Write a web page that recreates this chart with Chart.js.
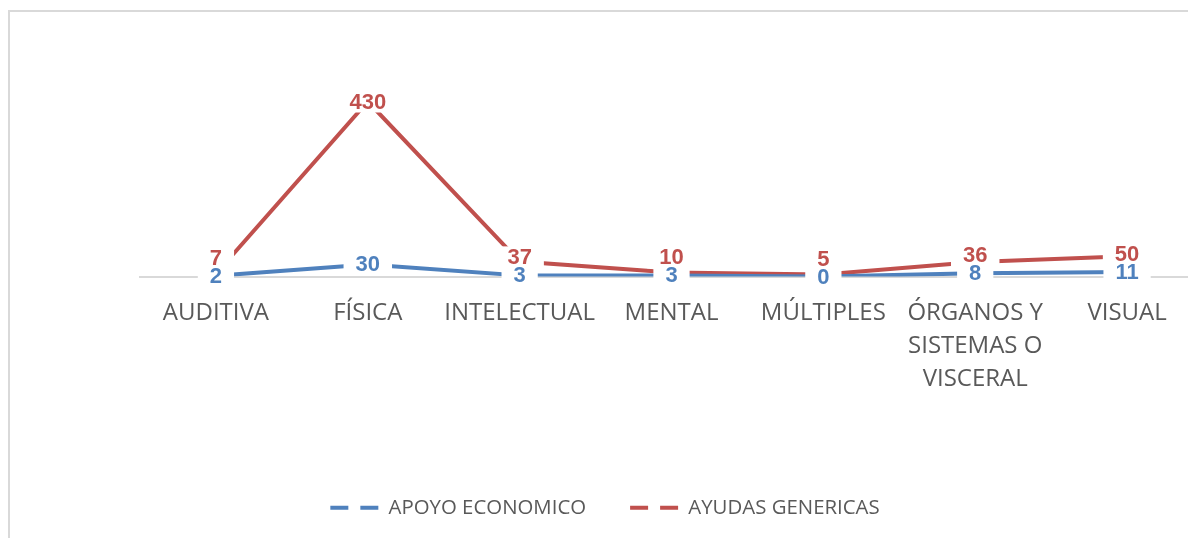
<!DOCTYPE html>
<html>
<head>
<meta charset="utf-8">
<script src="https://cdn.jsdelivr.net/npm/chart.js@4"></script>
<style>
html, body { margin: 0; padding: 0; background: #fff; overflow: hidden; width: 1188px; height: 538px; }
#marco { position: absolute; left: 8px; top: 10px; width: 1400px; height: 700px; border-left: 2px solid #d9d9d9; border-top: 2px solid #d9d9d9; }
#grafico { position: absolute; left: 0; top: 0; }
</style>
</head>
<body>
<div id="marco"></div>
<canvas id="grafico" width="1212" height="538"></canvas>
<script>
// datos
const categorias = ["AUDITIVA", "FÍSICA", "INTELECTUAL", "MENTAL", "MÚLTIPLES", ["ÓRGANOS Y", "SISTEMAS O", "VISCERAL"], "VISUAL"];
const apoyoEconomico = [2, 30, 3, 3, 0, 8, 11];
const ayudasGenericas = [7, 430, 37, 10, 5, 36, 50];

const AZUL = "#4f81bd";
const ROJO = "#c0504d";
const GRIS = "#595959";
const NARROW = "'Liberation Sans Narrow', 'Open Sans', sans-serif";

// etiquetas de datos con fondo blanco
const etiquetas = {
    id: "etiquetas",
    afterDatasetsDraw(chart){
        const ctx = chart.ctx;
        const azul = chart.getDatasetMeta(0).data;
        const rojo = chart.getDatasetMeta(1).data;
        const lista = [];
        azul.forEach((p, i) => lista.push([String(apoyoEconomico[i]), p.x, p.y, AZUL]));
        rojo.forEach((p, i) => lista.push([String(ayudasGenericas[i]), p.x, Math.min(p.y, azul[i].y - 18), ROJO]));
        ctx.save();
        ctx.font = "bold 22px 'Liberation Sans', sans-serif";
        ctx.textAlign = "center";
        ctx.textBaseline = "middle";
        ctx.fillStyle = "#fff";
        lista.forEach(e => {
            const w = ctx.measureText(e[0]).width + 24;
            ctx.fillRect(e[1] - w / 2, e[2] - 11, w, 22);
        });
        lista.forEach(e => {
            ctx.fillStyle = e[3];
            ctx.fillText(e[0], e[1], e[2] + 1);
        });
        ctx.restore();
    }
};

new Chart(document.getElementById("grafico"), {
    type: "line",
    data: {
        labels: categorias,
        datasets: [
            { label: "APOYO ECONOMICO", data: apoyoEconomico, borderColor: AZUL, backgroundColor: AZUL, borderWidth: 4, pointRadius: 0, tension: 0 },
            { label: "AYUDAS GENERICAS", data: ayudasGenericas, borderColor: ROJO, backgroundColor: ROJO, borderWidth: 4, pointRadius: 0, tension: 0 }
        ]
    },
    options: {
        responsive: false,
        animation: false,
        layout: { padding: { left: 7, right: 9, top: 73, bottom: 10 } },
        plugins: {
            tooltip: { enabled: false },
            legend: {
                position: "bottom",
                labels: {
                    usePointStyle: true,
                    pointStyleWidth: 48,
                    padding: 44,
                    color: GRIS,
                    font: { family: NARROW, size: 20.4 },
                    generateLabels(chart){
                        return chart.data.datasets.map((d, i) => ({
                            text: d.label,
                            strokeStyle: d.borderColor,
                            fillStyle: d.borderColor,
                            lineWidth: 4,
                            lineDash: [18, 12],
                            pointStyle: "line",
                            fontColor: GRIS,
                            datasetIndex: i,
                            hidden: false
                        }));
                    }
                }
            }
        },
        scales: {
            x: {
                offset: true,
                grid: { display: false },
                border: { display: true, color: "#d9d9d9", width: 2 },
                ticks: { color: GRIS, padding: 12, maxRotation: 0, autoSkip: false, font: { family: NARROW, size: 24, lineHeight: 1.375 } },
                afterFit(s){ s.height = 177; }
            },
            y: {
                min: 0, max: 500,
                grid: { display: false },
                border: { display: false },
                ticks: { display: false },
                afterFit(s){ s.width = 133; }
            }
        }
    },
    plugins: [etiquetas]
});
</script>
</body>
</html>
